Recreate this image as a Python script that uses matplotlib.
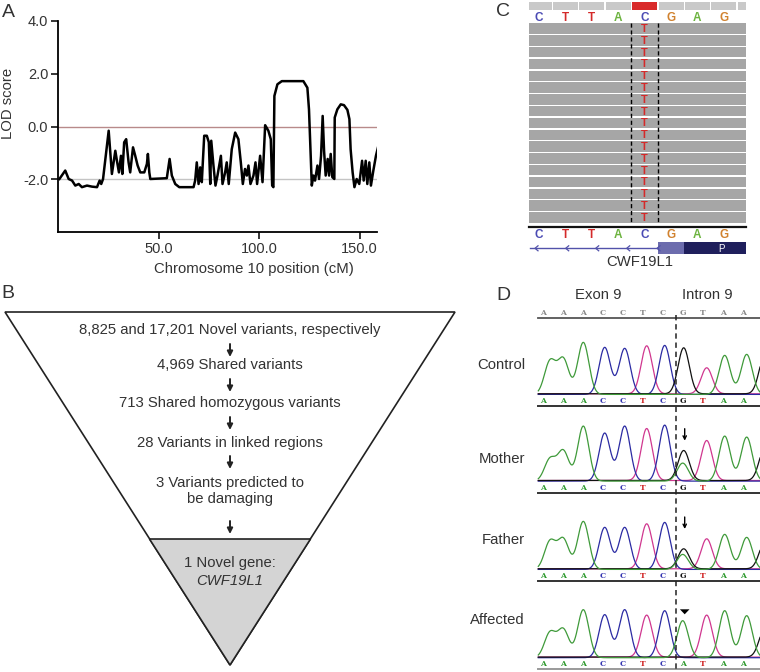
import matplotlib
matplotlib.use("Agg")
import matplotlib.pyplot as plt
import numpy as np
from matplotlib.patches import Polygon, Rectangle

plt.rcParams["font.family"] = ["Liberation Sans", "DejaVu Sans"]

TEXT = "#333333"
FS = 10.7

# ---------------- Panel A: LOD scores along chromosome 10 ----------------
lod_cm = [0.7, 3.6, 5.3, 7.0, 8.6, 10.3, 11.9, 14.4, 16.9, 19.4, 20.7, 21.5, 22.4,
          25.2, 26.8, 28.5, 29.3, 30.3, 31.3, 32.0, 32.9, 33.9, 35.1, 35.9, 37.3,
          38.4, 39.6, 40.9, 42.9, 44.2, 44.7, 45.4, 45.9, 54.1, 55.5, 56.6, 58.3,
          60.3, 67.4, 68.2, 69.0, 69.9, 70.7, 71.5, 72.7, 74.0, 75.0, 75.7, 76.2,
          77.3, 78.3, 79.3, 81.0, 81.8, 83.1, 83.9, 84.9, 86.4, 88.1, 89.7, 90.9,
          91.9, 93.0, 93.9, 94.7, 95.7, 97.2, 98.2, 99.0, 100.5, 101.7, 103.0,
          104.6, 105.8, 106.5, 107.1, 107.6, 109.1, 111.3, 122.0, 124.0, 124.8,
          126.2, 127.0, 127.8, 129.0, 129.8, 130.8, 131.6, 132.3, 133.1, 134.1,
          134.8, 135.6, 136.4, 137.4, 137.6, 138.9, 140.6, 142.2, 143.9, 144.9,
          145.5, 146.5, 147.4, 148.5, 149.8, 151.2, 152.0, 153.0, 153.8, 154.8,
          155.6, 156.8, 158.1, 159.3]
lod_score = [-1.99, -1.67, -1.99, -2.05, -2.24, -2.18, -2.30, -2.24, -2.28, -2.30,
             -2.05, -2.18, -1.99, -0.16, -1.80, -0.92, -1.30, -1.74, -1.11, -1.80,
             -0.60, -0.48, -1.36, -1.74, -0.79, -1.11, -1.48, -1.74, -1.74, -1.42,
             -1.04, -1.74, -1.99, -1.96, -1.23, -1.86, -2.18, -2.30, -2.30, -2.05,
             -1.36, -2.18, -1.55, -2.11, -0.35, -0.35, -0.60, -2.18, -0.54, -1.48,
             -2.24, -1.86, -1.11, -2.18, -1.74, -1.36, -2.18, -0.86, -0.23, -0.48,
             -1.36, -2.18, -1.61, -1.86, -1.48, -2.18, -1.86, -1.36, -2.18, -1.11,
             -2.11, 0.05, -0.16, -0.48, -2.24, -2.30, 1.16, 1.60, 1.72, 1.72, 1.47,
             0.65, -2.24, -1.86, -2.05, -1.48, -1.99, -1.11, 0.40, -0.92, -1.86,
             -1.23, -1.86, -1.04, -1.92, -1.99, 0.34, 0.65, 0.84, 0.81, 0.63, 0.28,
             -0.86, -1.74, -2.30, -1.99, -2.18, -1.30, -2.05, -1.30, -2.18, -1.36,
             -2.24, -1.67, -1.11, -0.73]
lod_yticks = [-2.0, 0.0, 2.0, 4.0]
lod_xticks = [50.0, 100.0, 150.0]
X_MAX = 158.6

# ---------------- Panel B: filtering funnel ----------------
funnel_steps = ["8,825 and 17,201 Novel variants, respectively",
                "4,969 Shared variants",
                "713 Shared homozygous variants",
                "28 Variants in linked regions",
                "3 Variants predicted to\nbe damaging"]
funnel_result = "1 Novel gene:"
funnel_gene = "CWF19L1"

# ---------------- Panel C: read pileup ----------------
ref_bases = list("CTTACGAG")
variant_index = 4
alt_base = "T"
n_reads = 17
gene_name = "CWF19L1"

# ---------------- Panel D: Sanger traces ----------------
trace_bases = list("AAACCTCGTAA")
sample_names = ["Control", "Mother", "Father", "Affected"]
sample_calls = ["AAACCTCGTAA", "AAACCTCGTAA", "AAACCTCGTAA", "AAACCTCATAA"]
peak_pos = [0.37, 1.03, 2.03, 3.1, 4.1, 5.2, 6.1, 7.05, 7.0, 8.2, 9.1, 10.2, 11.1]
peak_chan = ["A", "A", "A", "C", "C", "T", "C", "G", "A", "T", "A", "A", "G"]
control_heights = [33, 35, 52, 47, 46, 48, 49, 46, 0, 26, 39, 40, 38]
mother_heights = [22, 30, 55, 48, 55, 52, 56, 30, 18, 40, 45, 44, 32]
father_heights = [28, 30, 48, 42, 42, 45, 47, 20, 15, 30, 35, 32, 26]
affected_heights = [25, 28, 48, 43, 48, 42, 47, 0, 37, 42, 47, 42, 28]
sample_heights = [control_heights, mother_heights, father_heights, affected_heights]
marker_kind = [None, "arrow", "arrow", "triangle"]

base_colors_igv = {"A": "#6cb33f", "C": "#4b4bb4", "G": "#d1822f", "T": "#d42a2a"}
trace_colors = {"A": "#3f9a3a", "C": "#2b2ba3", "G": "#111111", "T": "#d0378f"}
call_colors = {"A": "#2f9a2f", "C": "#3434b0", "G": "#111111", "T": "#d02525"}

fig = plt.figure(figsize=(7.6, 6.72), dpi=100)

# overlay in pixel coordinates for the schematic panels
ov = fig.add_axes([0, 0, 1, 1])
ov.set_xlim(0, 760)
ov.set_ylim(672, 0)
ov.axis("off")

# ---- Panel A
ax = fig.add_axes([58 / 760, 1 - 232 / 672, (57.7 + X_MAX * 2.013 - 58) / 760, 211 / 672])
ax.plot(lod_cm, lod_score, color="black", lw=1.8, solid_joinstyle="round", zorder=3)
ax.axhline(0, color="#b88a8a", lw=1.0, zorder=2)
ax.axhline(-2, color="#c4c4c4", lw=1.0, zorder=1)
ax.set_xlim(0, X_MAX)
ax.set_ylim(-4, 4)
ax.set_yticks(lod_yticks)
ax.set_yticklabels([f"{v:.1f}" for v in lod_yticks])
ax.set_xticks(lod_xticks)
ax.set_xticklabels([f"{v:.1f}" for v in lod_xticks])
for s in ["top", "right"]:
    ax.spines[s].set_visible(False)
for s in ["left", "bottom"]:
    ax.spines[s].set_linewidth(1.3)
ax.tick_params(length=5, width=1.1, labelsize=10.5, labelcolor=TEXT, pad=2)
ax.patch.set_alpha(0)
fig.text(8.5 / 760, 1 - 103 / 672, "LOD score", rotation=90, ha="center", va="center",
         fontsize=FS, color=TEXT)
fig.text(254 / 760, 1 - 269 / 672, "Chromosome 10 position (cM)", ha="center",
         va="center", fontsize=FS, color=TEXT)

# panel letters
for lab, x, y in [("A", 8.5, 12.5), ("B", 7.5, 293), ("C", 503, 12), ("D", 503, 295)]:
    ov.text(x, y, lab, fontsize=14, color=TEXT, ha="center", va="center")

# ---- Panel B
ov.add_patch(Polygon([(5, 312), (455, 312), (230, 665)], closed=True, fc="white",
                     ec="#222222", lw=1.2))
ov.add_patch(Polygon([(149.5, 539), (310.5, 539), (230, 665)], closed=True,
                     fc="#d4d4d4", ec="#222222", lw=1.2))
step_y = [330, 365, 402.7, 442.7, 491]
arrow_y = [(344, 357), (379, 392), (417, 430), (456, 469), (521, 534)]
for txt, y in zip(funnel_steps, step_y):
    ov.text(230, y, txt, ha="center", va="center", fontsize=FS, color=TEXT,
            linespacing=1.1)
for y0, y1 in arrow_y:
    ov.annotate("", xy=(230, y1), xytext=(230, y0),
                arrowprops=dict(arrowstyle="-|>", lw=1.4, color="#222222",
                                mutation_scale=8, shrinkA=0, shrinkB=0))
ov.text(230, 563, funnel_result, ha="center", va="center", fontsize=FS, color=TEXT)
ov.text(230, 581, funnel_gene, ha="center", va="center", fontsize=FS, color=TEXT,
        style="italic")

# ---- Panel C
c_left, c_right = 529.3, 746.0
b0, bw = 539.0, 26.4
for i in range(-1, 9):
    x0 = max(b0 + bw * (i - 0.5) + 0.7, c_left)
    x1 = min(b0 + bw * (i + 0.5) - 0.7, c_right)
    if x1 <= x0:
        continue
    col = "#d92a2a" if i == variant_index else "#c9c9c9"
    ov.add_patch(Rectangle((x0, 1.7), x1 - x0, 8.3, fc=col, ec="none"))
for i, b in enumerate(ref_bases):
    for y in (18.3, 235):
        ov.text(b0 + bw * i, y, b, ha="center", va="center", fontsize=8.5,
                fontweight="bold", color=base_colors_igv[b])
row_top, row_pitch = 23.3, 11.8
for r in range(n_reads):
    top = row_top + row_pitch * r
    h = min(10.5, 223.0 - top)
    ov.add_patch(Rectangle((c_left, top), c_right - c_left, h, fc="#a6a6a6", ec="none"))
    ov.text(b0 + bw * variant_index, top + h / 2 + 0.5, alt_base, ha="center",
            va="center", fontsize=8, fontweight="bold", color=base_colors_igv[alt_base])
for xd in (b0 + bw * (variant_index - 0.5), b0 + bw * (variant_index + 0.5)):
    ov.plot([xd, xd], [23, 223], color="black", lw=1.0, ls=(0, (3, 2)))
ov.plot([c_left, c_right], [226.7, 226.7], color="#111111", lw=1.6)
exon_start = b0 + bw * (variant_index + 0.5)
ov.plot([c_left + 1, exon_start], [248.3, 248.3], color="#5252aa", lw=1.0)
for xc in [535, 565.7, 595.7, 626.7, 657]:
    ov.plot([xc + 3, xc, xc + 3], [245.8, 248.3, 250.8], color="#5252aa", lw=0.9)
ov.add_patch(Rectangle((exon_start, 242.3), 26.0, 11.7, fc="#6c6cad", ec="none"))
ov.add_patch(Rectangle((exon_start + 26.0, 242.3), c_right - exon_start - 26.0, 11.7,
                       fc="#1f1f5c", ec="none"))
ov.text(721.7, 248.6, "P", color="white", fontsize=7, ha="center", va="center")
ov.text(640, 261.7, gene_name, ha="center", va="center", fontsize=FS, color=TEXT)

# ---- Panel D
d_left, d_right = 538.3, 760.0
s0, sw = 542.7, 20.0
ov.text(598.3, 295, "Exon 9", ha="center", va="center", fontsize=FS, color=TEXT)
ov.text(707.3, 295, "Intron 9", ha="center", va="center", fontsize=FS, color=TEXT)
for i, b in enumerate(trace_bases):
    ov.text(s0 + sw * i, 313.3, b, ha="center", va="center", fontsize=5.5,
            fontweight="bold", color="#8a8a8a", family="DejaVu Serif")
ov.plot([d_left, d_right], [318.3, 318.3], color="#555555", lw=1.3)

u = np.linspace((d_left - s0) / sw, (d_right - s0) / sw, 900)
sigma = 0.28
baselines = [395.0, 481.7, 570.0, 658.3]
label_y = [365, 459.3, 540, 620]
for name, calls, heights, base_y, ly, mk in zip(sample_names, sample_calls,
                                                sample_heights, baselines, label_y,
                                                marker_kind):
    ov.text(525, ly, name, ha="right", va="center", fontsize=FS, color=TEXT)
    for ch in ["T", "C", "G", "A"]:
        sig = np.full_like(u, 1.2 if ch in ("T", "G") else 0.6)
        for p, c, h in zip(peak_pos, peak_chan, heights):
            if c == ch and h > 0:
                sig = sig + h * np.exp(-(u - p) ** 2 / (2 * sigma ** 2))
        ov.plot(s0 + sw * u, base_y - sig, color=trace_colors[ch], lw=0.9)
    for i, b in enumerate(calls):
        ov.text(s0 + sw * i, base_y + 5.8, b, ha="center", va="center", fontsize=5.5,
                fontweight="bold", color=call_colors[b], family="DejaVu Serif")
    line_col = "#9a9a9a" if name == "Affected" else "#333333"
    ov.plot([d_left, d_right], [base_y + 11, base_y + 11], color=line_col, lw=1.4)
    mx = s0 + sw * 7.1
    if mk == "arrow":
        ov.annotate("", xy=(mx, base_y - 41), xytext=(mx, base_y - 53),
                    arrowprops=dict(arrowstyle="->", lw=1.0, color="black",
                                    mutation_scale=6, shrinkA=0, shrinkB=0))
    elif mk == "triangle":
        ov.add_patch(Polygon([(mx - 4.8, base_y - 49), (mx + 4.8, base_y - 49),
                              (mx, base_y - 44)], closed=True, fc="black", ec="none"))
ov.plot([676, 676], [315, 672], color="#222222", lw=1.1, ls=(0, (3.5, 2.5)))

fig.savefig("out.png", dpi=100)
plt.close(fig)
